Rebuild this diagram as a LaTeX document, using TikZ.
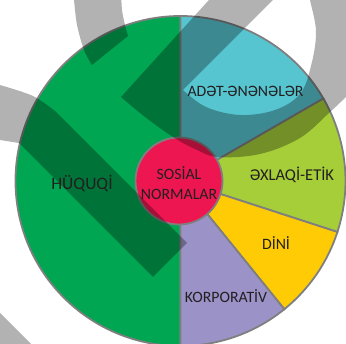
\documentclass[tikz,border=0pt]{standalone}
\usepackage{fontspec}
\setmainfont{Carlito}
\definecolor{huquq}{HTML}{00A651}
\definecolor{adet}{HTML}{56C5D0}
\definecolor{exlaq}{HTML}{A6CE39}
\definecolor{dini}{HTML}{FFCB05}
\definecolor{korp}{HTML}{9B93C8}
\definecolor{normal}{HTML}{ED1651}
\definecolor{edge}{HTML}{7F7F80}
\definecolor{ink}{HTML}{231F20}
\tikzset{
  wmark/.style={fill=black,opacity=0.3},
  lbl/.style={text=ink,anchor=base,font=\fontsize{15.8}{19.5}\selectfont}
}

\begin{document}
\begin{tikzpicture}[x=1pt,y=-1pt]
\useasboundingbox (0,0) rectangle (346,344);
\coordinate (O) at (180.5,181);

\foreach \a/\b/\c in {90/270/huquq,-90/-30/adet,-30/18/exlaq,18/51/dini,51/90/korp}
{
\filldraw[fill=\c,draw=edge,line width=1.8pt]
  (O) -- ++(\a:165) arc[start angle=\a,end angle=\b,radius=165] -- cycle;
}
\node[circle,fill=normal,draw=edge,line width=1.8pt,minimum size=87pt,inner sep=0pt] (sosial) at (179,181) {};

\fill[wmark] (121,97) -- (218,-10) -- (283,-10) -- (183,90)
  -- plot[smooth,tension=0.6] coordinates {(183,90) (206,107) (240,115) (275,110) (300,94) (311,66) (316,32) (310,0) (308,-10)}
  -- (360,-10) -- (360,84)
  -- plot[smooth,tension=0.6] coordinates {(360,84) (346,97) (330,112) (300,138) (260,154) (218,157) (195,149) (173,137) (145,117) (121,97)}
  -- cycle;
\fill[wmark] (73,-10)
  -- plot[smooth] coordinates {(73,-10) (74,0) (77,25) (84,50) (92,65)}
  -- (128,36)
  -- plot[smooth] coordinates {(128,36) (125,25) (122,10) (121,-10)}
  -- cycle;
\fill[wmark] (-10,83)
  -- plot[smooth] coordinates {(-10,83) (0,85) (33,96) (55,111)}
  -- (187,243) -- (153,277) -- (19,143) -- (0,140) -- (-10,139) -- cycle;
\fill[wmark] (-10,303) -- (41,354) -- (-10,354) -- cycle;

\node[lbl,font=\fontsize{17.5}{20}\selectfont] (huquqi) at (82,190) {HÜQUQİ};
\node[lbl] (adetler) at (245.5,97) {ADƏT-ƏNƏNƏLƏR};
\node[lbl,font=\fontsize{16.5}{20}\selectfont] (exlaqi) at (292,181) {ƏXLAQİ-ETİK};
\node[lbl] (dinitext) at (276,250) {DİNİ};
\node[lbl] (korporativ) at (226,303) {KORPORATİV};
\node[lbl,anchor=center,align=center] (sosialtext) at (179,183) {SOSİAL\\NORMALAR};
\end{tikzpicture}
\end{document}
